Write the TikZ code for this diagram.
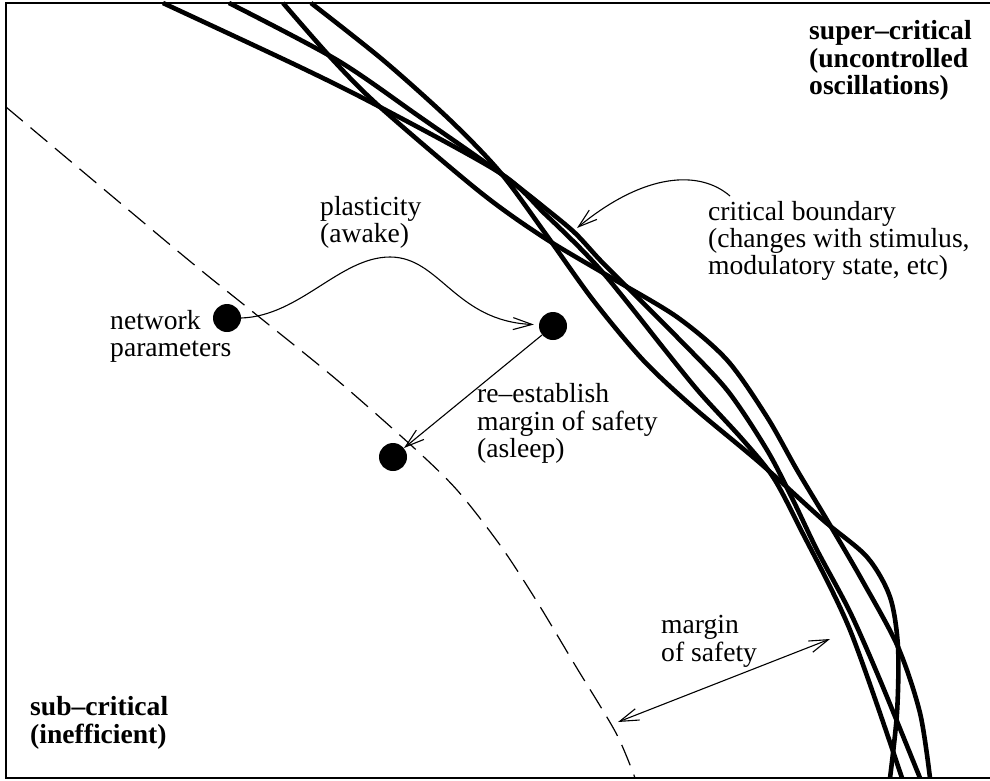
\documentclass[tikz,border=0pt]{standalone}
\usepackage{fontspec}
\setmainfont{Liberation Serif}
\usetikzlibrary{arrows.meta}
\begin{document}
\begin{tikzpicture}[x=1pt,y=-1pt,
  boundary/.style={line width=4.6pt},
  barb/.tip={Straight Barb[length=19pt,width=12pt,line width=1.1pt]},
  thinarrow/.style={line width=1.1pt,-barb},
  dot/.style={circle,fill=black,minimum size=28pt,inner sep=0pt},
  lbl/.style={anchor=base west,inner sep=0pt,font=\fontsize{27.6}{27.6}\selectfont},
  blbl/.style={anchor=base west,inner sep=0pt,font=\fontsize{27.6}{27.6}\selectfont\bfseries}]
\useasboundingbox (0,0) rectangle (990,780);
% frame
\draw[line width=1.3pt] (990,3) -- (6,3) -- (6,778) -- (990,778);
% critical boundaries
\draw[boundary] plot[smooth] coordinates {(311,3) (383,60) (450,120) (500,172) (545,233) (593,300) (643,360) (693,407) (760,463) (823,520) (867,557) (890,597) (898,647) (897,713) (890,778)};
\draw[boundary] plot[smooth] coordinates {(283,3) (333,60) (380,107) (480,192) (543,237) (610,277) (677,317) (727,360) (767,417) (797,470) (827,520) (862,580) (898,647) (920,713) (930,778)};
\draw[boundary] plot[smooth] coordinates {(163,3) (300,67) (380,107) (500,173) (545,214) (580,248) (605,275) (635,312) (665,350) (700,393) (743,440) (773,477) (800,528) (850,630) (902,778)};
\draw[boundary] plot[smooth] coordinates {(229,3) (337,60) (420,117) (500,173) (545,208) (575,233) (600,260) (627,287) (677,337) (727,390) (767,450) (793,500) (817,550) (850,612) (880,680) (920,778)};
% dashed margin line
\draw[line width=1.2pt,dash pattern=on 22pt off 10pt] plot[smooth] coordinates {(6,107) (180,253) (253,312) (337,380) (413,447) (457,490) (500,545) (536,600) (575,665) (616,733) (635,778)};
% dots
\node[dot] (p1) at (227,318) {};
\node[dot] (p2) at (553,326) {};
\node[dot] (p3) at (393,457) {};
% arrows
\draw[thinarrow,shorten >=5pt] (p1.east) .. controls (300,316) and (340,257) .. (390,257) .. controls (440,257) and (455,321) .. (p2.175);
\draw[thinarrow] (p2) -- (p3);
\coordinate (cb) at (730,196);
\coordinate (cbt) at (577,228);
\draw[thinarrow] (cb) .. controls (700,170) and (645,172) .. (cbt);
\coordinate (m1) at (830,639);
\coordinate (m2) at (618,722);
\draw[line width=1.1pt,barb-barb] (m1) -- (m2);
% labels
\node[blbl] (t1) at (809,39) {super–critical};
\node[blbl] (t2) at (809,67) {(uncontrolled};
\node[blbl] (t3) at (809,94) {oscillations)};
\node[lbl] (c1) at (708,220) {critical boundary};
\node[lbl] (c2) at (708,247) {(changes with stimulus,};
\node[lbl] (c3) at (708,274) {modulatory state, etc)};
\node[lbl] (a1) at (320,215) {plasticity};
\node[lbl] (a2) at (320,242) {(awake)};
\node[lbl] (n1) at (110,329) {network};
\node[lbl] (n2) at (110,356) {parameters};
\node[lbl] (r1) at (477,402) {re–establish};
\node[lbl] (r2) at (477,430) {margin of safety};
\node[lbl] (r3) at (477,457) {(asleep)};
\node[lbl] (s1) at (661,633) {margin};
\node[lbl] (s2) at (661,661) {of safety};
\node[blbl] (b1) at (30,715) {sub–critical};
\node[blbl] (b2) at (30,743) {(inefficient)};
\end{tikzpicture}
\end{document}
